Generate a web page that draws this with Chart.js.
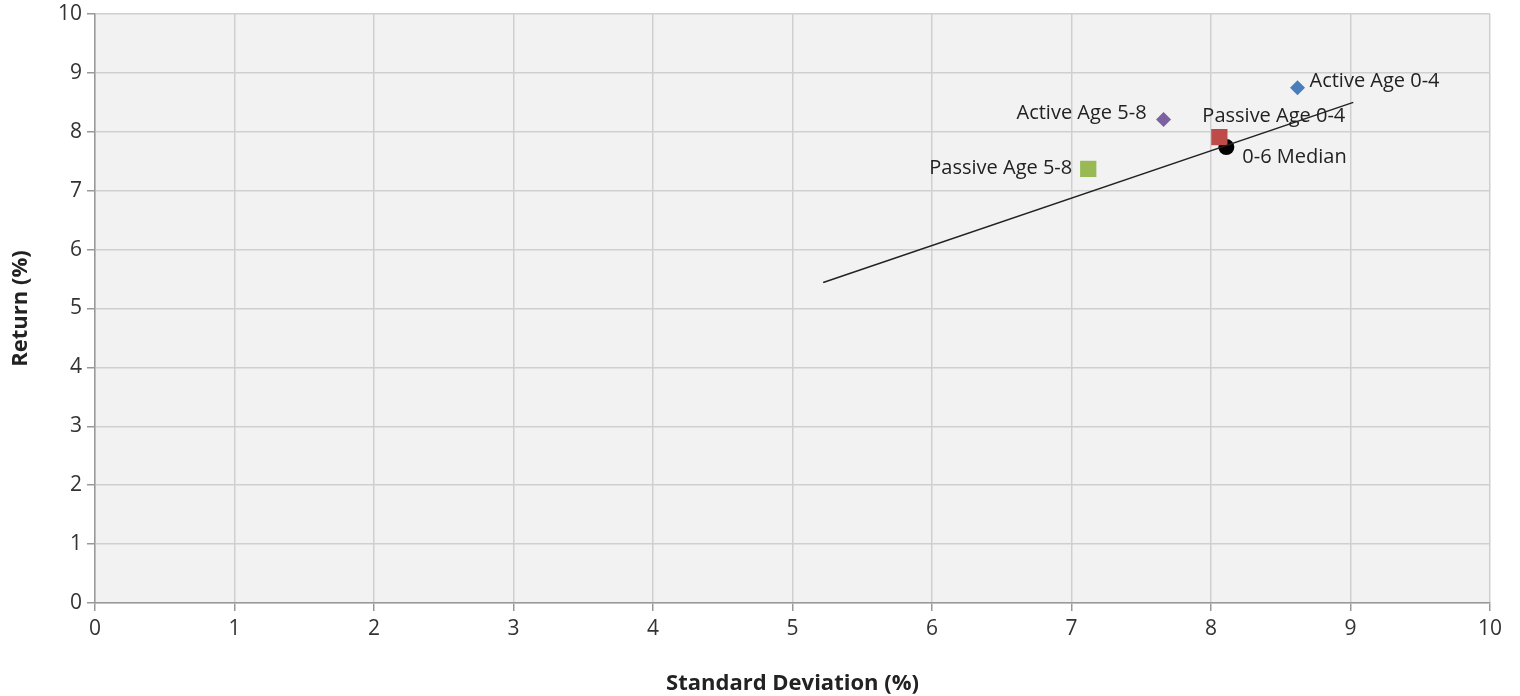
<!DOCTYPE html>
<html>
<head>
<meta charset="utf-8">
<script src="https://cdn.jsdelivr.net/npm/chart.js@4.4.0/dist/chart.umd.min.js"></script>
<style>
  html, body { margin: 0; padding: 0; background: #fff; }
  #wrap { width: 1520px; height: 696px; }
</style>
</head>
<body>
<div id="wrap"><canvas id="canvas" width="1520" height="696"></canvas></div>
<script>
// series values (standard deviation %, return %)
var names = ['Active Age 0-4', 'Passive Age 0-4', 'Active Age 5-8', 'Passive Age 5-8', '0-6 Median'];
var stdDev = [8.62, 8.06, 7.66, 7.12, 8.11];
var returns = [8.75, 7.91, 8.21, 7.37, 7.74];
var lineX = [5.22, 9.02];
var lineY = [5.44, 8.50];
var tickValues = [0, 1, 2, 3, 4, 5, 6, 7, 8, 9, 10];

var colours = ['#4a7ebb', '#be4b48', '#7d60a0', '#98b954', '#000000'];
var shapes = ['rectRot', 'rect', 'rectRot', 'rect', 'circle'];
var sizes = [7.5, 11.5, 7.5, 11.5, 8];
// where each label sits relative to its marker: [dx, dy, align]
var labelPlace = [[12, -6, 'left'], [-17, -21, 'left'], [-17, -6, 'right'], [-16, -1, 'right'], [16, 10, 'left']];

var font = "'Open Sans', 'DejaVu Sans', sans-serif";

var datasets = [{
    type: 'line',
    data: lineX.map(function(x, i) { return {x: x, y: lineY[i]}; }),
    borderColor: '#222',
    borderWidth: 1.5,
    pointRadius: 0,
    fill: false
}];
names.forEach(function(n, i) {
    datasets.push({
        type: 'scatter',
        label: n,
        data: [{x: stdDev[i], y: returns[i]}],
        pointStyle: shapes[i],
        pointRadius: sizes[i],
        backgroundColor: colours[i],
        borderColor: colours[i],
        borderWidth: 0
    });
});

var plotBg = {
    id: 'plotBg',
    beforeDraw: function(chart) {
        var a = chart.chartArea, c = chart.ctx;
        c.save();
        c.fillStyle = '#f2f2f2';
        c.fillRect(a.left, a.top, a.right - a.left, a.bottom - a.top);
        c.restore();
    }
};

var pointLabels = {
    id: 'pointLabels',
    afterDatasetsDraw: function(chart) {
        var c = chart.ctx;
        c.save();
        c.font = '20px ' + font;
        c.fillStyle = '#222';
        c.textBaseline = 'middle';
        names.forEach(function(n, i) {
            var px = chart.scales.x.getPixelForValue(stdDev[i]);
            var py = chart.scales.y.getPixelForValue(returns[i]);
            var p = labelPlace[i];
            c.textAlign = p[2];
            c.fillText(n, px + p[0], py + p[1]);
        });
        c.restore();
    }
};

var ticksOpt = {
    color: '#333',
    font: {family: font, size: 21},
    padding: 5
};

new Chart(document.getElementById('canvas').getContext('2d'), {
    data: {datasets: datasets},
    plugins: [plotBg, pointLabels],
    options: {
        responsive: false,
        animation: false,
        layout: {padding: {top: 14, right: 30, left: 0, bottom: 0}},
        plugins: {legend: {display: false}, tooltip: {enabled: false}},
        scales: {
            x: {
                type: 'linear',
                min: 0, max: 10,
                afterBuildTicks: function(s) { s.ticks = tickValues.map(function(v) { return {value: v}; }); },
                grid: {color: '#cfcfcf', lineWidth: 1.5, tickColor: '#999', tickLength: 8},
                border: {color: '#999', width: 1.5},
                ticks: ticksOpt,
                title: {display: true, text: 'Standard Deviation (%)', color: '#222',
                        font: {family: font, size: 22, weight: 'bold'}, padding: {top: 9, bottom: -1}},
                afterFit: function(s) { s.height = 93; s.paddingLeft = 0; s.paddingRight = 0; }
            },
            y: {
                type: 'linear',
                min: 0, max: 10,
                afterBuildTicks: function(s) { s.ticks = tickValues.map(function(v) { return {value: v}; }); },
                grid: {color: '#cfcfcf', lineWidth: 1.5, tickColor: '#999', tickLength: 8},
                border: {color: '#999', width: 1.5},
                ticks: ticksOpt,
                title: {display: true, text: 'Return (%)', color: '#222',
                        font: {family: font, size: 22, weight: 'bold'}, padding: {top: 8, bottom: 4}},
                afterFit: function(s) { s.width = 95; s.paddingTop = 0; s.paddingBottom = 0; }
            }
        }
    }
});
</script>
</body>
</html>
